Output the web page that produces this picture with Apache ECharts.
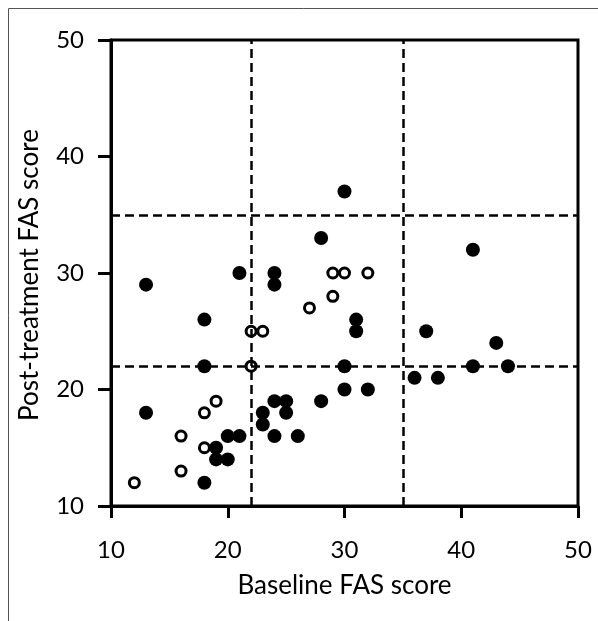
<!DOCTYPE html>
<html>
<head>
<meta charset="utf-8">
<script src="https://cdn.jsdelivr.net/npm/echarts@6/dist/echarts.min.js"></script>
<style>
html,body{margin:0;padding:0;background:#fff;}
#chart{width:598px;height:621px;}
</style>
</head>
<body>
<div id="chart"></div>
<script>
// Data
const xTicks = [10, 20, 30, 40, 50];
const yTicks = [10, 20, 30, 40, 50];
const filledX = [13,13,18,18,18,19,19,20,20,21,21,23,23,24,24,24,24,25,25,26,28,28,30,30,30,31,31,32,36,37,38,41,41,43,44];
const filledY = [29,18,26,22,12,15,14,16,14,16,30,18,17,30,29,19,16,19,18,16,33,19,37,22,20,26,25,20,21,25,21,32,22,24,22];
const openX = [12,16,16,18,18,19,22,22,23,27,29,29,30,32];
const openY = [12,16,13,18,15,19,25,22,25,27,30,28,30,30];
const cutX = [22, 35];
const cutY = [22, 35];
const xTitle = 'Baseline FAS score';
const yTitle = 'Post-treatment FAS score';

const filled = filledX.map((x, i) => [x, filledY[i]]);
const open = openX.map((x, i) => [x, openY[i]]);

const chart = echarts.init(document.getElementById('chart'), null, {renderer: 'canvas'});
const FONT = 'Lato';
chart.setOption({
  animation: false,
  backgroundColor: '#fff',
  grid: {left: 111, right: 20, top: 40, bottom: 115, show: true, borderColor: '#000', borderWidth: 3, containLabel: false},
  xAxis: {
    type: 'value', min: xTicks[0], max: xTicks[xTicks.length - 1], interval: 10,
    axisLine: {show: true, onZero: false, lineStyle: {color: '#000', width: 3}},
    axisTick: {show: true, inside: false, length: 12, lineStyle: {color: '#000', width: 3}},
    axisLabel: {color: '#000', fontFamily: FONT, fontSize: 24, margin: 32},
    splitLine: {show: false}
  },
  yAxis: {
    type: 'value', min: yTicks[0], max: yTicks[yTicks.length - 1], interval: 10,
    axisLine: {show: true, onZero: false, lineStyle: {color: '#000', width: 3}},
    axisTick: {show: true, inside: false, length: 13, lineStyle: {color: '#000', width: 3}},
    axisLabel: {color: '#000', fontFamily: FONT, fontSize: 24, margin: 27},
    splitLine: {show: false}
  },
  graphic: [
    {type: 'rect', shape: {x: 8.5, y: 8.5, width: 700, height: 700}, style: {fill: 'none', stroke: '#555', lineWidth: 1}, silent: true, z: -1},
    {type: 'text', x: 344.5, y: 586, style: {text: xTitle, fontFamily: FONT, fontSize: 26, fill: '#000', textAlign: 'center', textVerticalAlign: 'middle'}},
    {type: 'text', x: 30, y: 275, rotation: Math.PI / 2, style: {text: yTitle, fontFamily: FONT, fontSize: 26, fill: '#000', textAlign: 'center', textVerticalAlign: 'middle'}}
  ],
  series: [
    {
      type: 'scatter', data: [], z: 1, silent: true,
      markLine: {
        silent: true, symbol: 'none', animation: false,
        label: {show: false},
        lineStyle: {color: '#000', width: 2.5, type: [9, 5]},
        data: cutX.map(v => ({xAxis: v})).concat(cutY.map(v => ({yAxis: v})))
      }
    },
    {
      type: 'scatter', data: filled, z: 3, symbol: 'circle', symbolSize: 14,
      itemStyle: {color: '#000', opacity: 1}
    },
    {
      type: 'scatter', data: open, z: 3, symbol: 'circle', symbolSize: 10,
      itemStyle: {color: '#fff', borderColor: '#000', borderWidth: 3, opacity: 1}
    }
  ]
});
</script>
</body>
</html>
